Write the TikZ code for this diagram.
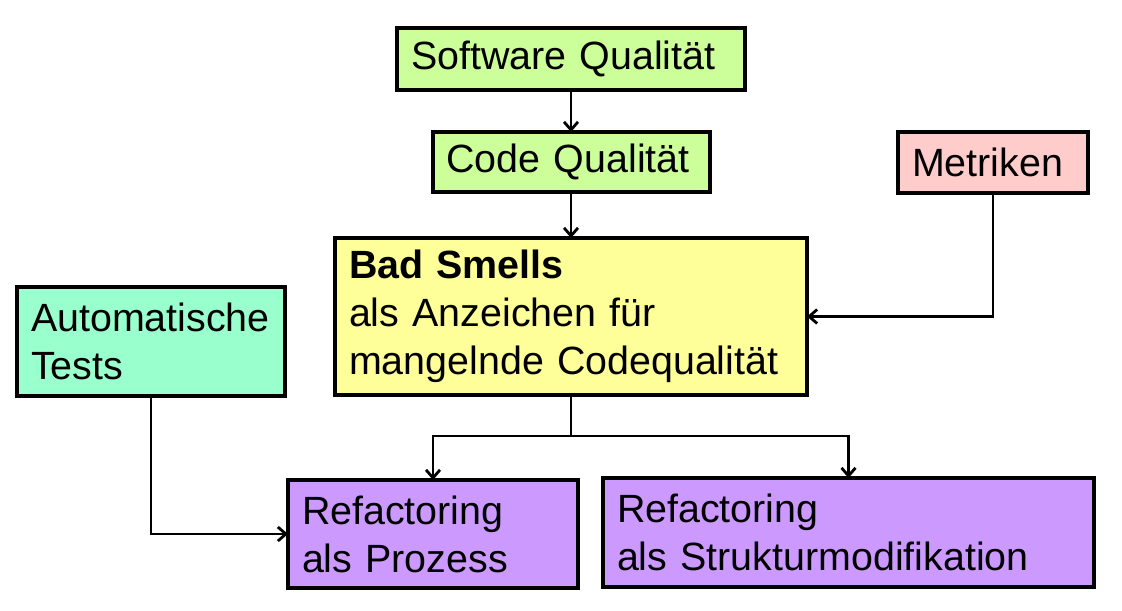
\documentclass[tikz,border=0pt]{standalone}
\usepackage{fontspec}
\setmainfont{Liberation Sans}
\usetikzlibrary{arrows.meta}
\definecolor{cgreen}{HTML}{CCFF99}
\definecolor{cpink}{HTML}{FFCCCC}
\definecolor{cyellow}{HTML}{FFFF99}
\definecolor{cteal}{HTML}{99FFCC}
\definecolor{cpurple}{HTML}{CC99FF}
\tikzset{
  box/.style={draw, line width=2pt, inner xsep=7pt, inner ysep=0pt, outer sep=0pt,
    align=left, anchor=center, font=\fontsize{19.7}{24}\selectfont},
  conn/.style={line width=1.4pt},
  arr/.style={conn, -{Straight Barb[length=4pt,width=7pt,line width=1.4pt]}}
}
\begin{document}
\begin{tikzpicture}[x=0.5pt,y=-0.5pt]
\useasboundingbox (0,0) rectangle (1122,610);
\node[box, fill=cgreen, text width=160pt, minimum height=31pt] (SQ) at (571,59) {Software Qualität};
\node[box, fill=cgreen, text width=124.5pt, minimum height=30pt] (CQ) at (571,162) {Code Qualität};
\node[box, fill=cpink, text width=81pt, minimum height=30.5pt] (MET) at (993,162.5) {Metriken};
\node[box, fill=cyellow, text width=222pt, minimum height=78.5pt] (BS) at (571,316.5) {\textbf{Bad Smells}\\als Anzeichen für\\mangelnde Codequalität};
\node[box, fill=cteal, text width=120pt, minimum height=54.5pt] (AT) at (151,341.5) {Automatische\\Tests};
\node[box, fill=cpurple, text width=131pt, minimum height=54pt] (R1) at (433,534) {Refactoring\\als Prozess};
\node[box, fill=cpurple, text width=231.5pt, minimum height=54.5pt] (R2) at (848.5,532.5) {Refactoring\\als Strukturmodifikation};
\coordinate (split) at (571,436);
\draw[arr] (SQ.south) -- (CQ.north);
\draw[arr] (CQ.south) -- (BS.north);
\draw[arr] (MET.south) |- (BS.east);
\draw[conn] (BS.south) -- (split);
\draw[arr] (split) -| (R1.north);
\draw[arr] (split) -| (R2.north);
\draw[arr] (AT.south) |- (R1.west);
\end{tikzpicture}
\end{document}
